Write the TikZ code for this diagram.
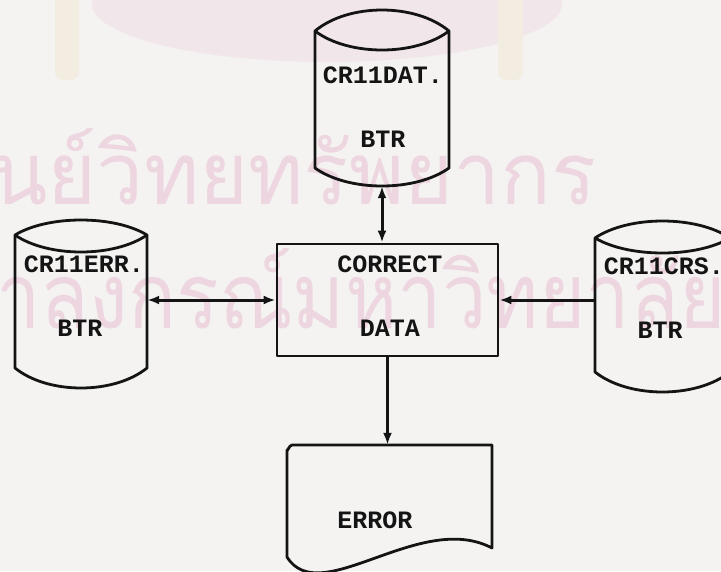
\documentclass[tikz,border=0pt]{standalone}
\usepackage{fontspec}
\setmonofont{Liberation Mono}
\newfontfamily\thaifont[Script=Thai]{Loma}
\usetikzlibrary{arrows.meta,calc}

\definecolor{paper}{RGB}{244,243,241}
\definecolor{ink}{RGB}{20,20,20}
\definecolor{stamp}{RGB}{238,214,225}
\definecolor{stampcream}{RGB}{242,237,224}

% drum: name, left, right, top side y, bottom side y, lid rise, lid sag, base sag
\newcommand{\drum}[8]{%
  \node[inner sep=0pt, minimum width={#3-#2}, minimum height={#5-#4+#6+#8}]
    (#1) at ({(#2+#3)/2},{(#4-#6+#5+#8)/2}) {};
  \draw[outline] (#2,#5) -- (#2,#4)
    .. controls ({#2+(#3-#2)/4},{#4-#6*4/3}) and ({#3-(#3-#2)/4},{#4-#6*4/3}) .. (#3,#4)
    -- (#3,#5)
    .. controls ({#3-(#3-#2)/4},{#5+#8*4/3}) and ({#2+(#3-#2)/4},{#5+#8*4/3}) .. cycle;
  \draw[outline] (#2,#4)
    .. controls ({#2+(#3-#2)/4},{#4+#7*4/3}) and ({#3-(#3-#2)/4},{#4+#7*4/3}) .. (#3,#4);
}

\begin{document}
\begin{tikzpicture}[x=1pt,y=-1pt,
  outline/.style={draw=ink, line width=2.8pt, line join=round},
  lbl/.style={inner sep=0pt, text=ink, font=\ttfamily\bfseries\fontsize{25}{25}\selectfont},
  flow/.style={draw=ink, line width=3pt, -{Latex[length=12pt,width=9pt]}},
  twoway/.style={draw=ink, line width=3pt, {Latex[length=12pt,width=9pt]}-{Latex[length=12pt,width=9pt]}},
  stamptext/.style={inner sep=0pt, text=stamp, font=\thaifont}
]
% paper
\fill[paper] (0,0) rectangle (721,571);
\useasboundingbox (0,0) rectangle (721,571);

% faint library stamp in the background
\fill[stamp!40!paper] (327,4) ellipse (235 and 58);
\fill[stampcream, rounded corners=8pt] (55,-10) rectangle (79,80);
\fill[stampcream, rounded corners=8pt] (498,-10) rectangle (523,80);
\node[stamptext, anchor=base east] (stampA) at (597,204) {\resizebox{660pt}{76pt}{ศูนย์วิทยทรัพยากร}};
\node[stamptext, anchor=base west] (stampB) at (-105,328) {\resizebox{830pt}{80pt}{จุฬาลงกรณ์มหาวิทยาลัย}};

% storage drums
\drum{dat}{315}{449}{31}{168}{21}{19}{18}
\drum{err}{15}{147}{235}{368}{15}{17}{20}
\drum{crs}{595}{730}{238}{372}{17}{15}{20}

\node[lbl] (datA) at (383,75) {CR11DAT.};
\node[lbl] (datB) at (383,139) {BTR};
\node[lbl] (errA) at (84,264) {CR11ERR.};
\node[lbl] (errB) at (80,328) {BTR};
\node[lbl] (crsA) at (664,266) {CR11CRS.};
\node[lbl] (crsB) at (660,330) {BTR};

% process box
\node[outline, inner sep=0pt, minimum width=221, minimum height=112] (box) at (387.5,300) {};
\node[lbl] (boxA) at (390,264) {CORRECT};
\node[lbl] (boxB) at (390,328) {DATA};

% printed report
\node[inner sep=0pt, minimum width=205, minimum height=112] (doc) at (389.5,501) {};
\draw[outline] (287,557) -- (287,450) to[out=-90,in=180] (292,445) -- (492,445) -- (492,548)
  .. controls (420,510) and (320,610) .. cycle;
\node[lbl] (docA) at (375,520) {ERROR};

% connectors
\draw[twoway] (dat.south) -- (dat.south |- box.north);
\draw[twoway] (err.east |- box.west) -- (box.west);
\draw[flow] (crs.west |- box.east) -- (box.east);
\draw[flow] (box.south) -- (box.south |- doc.north);
\end{tikzpicture}
\end{document}
